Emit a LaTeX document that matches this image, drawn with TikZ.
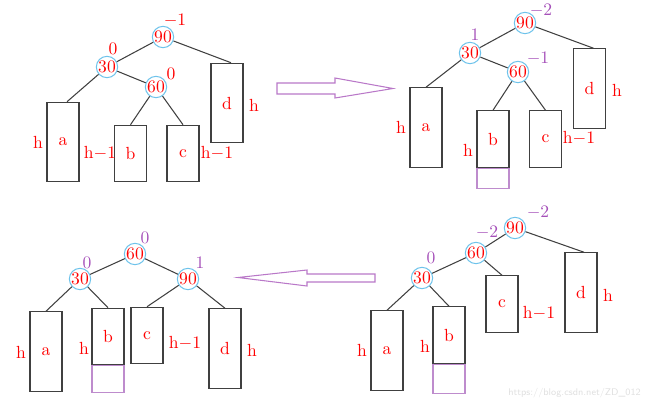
\documentclass[tikz,border=0pt]{standalone}
\usepackage{amsmath}
\usepackage{xcolor}
\usepackage{tikz}
\usetikzlibrary{calc}
\usetikzlibrary{shapes,arrows,positioning}
\definecolor{keyblue}{RGB}{110,195,235}
\definecolor{bfpurple}{RGB}{165,80,185}
\definecolor{extpurple}{RGB}{190,140,205}
\definecolor{arrpurple}{RGB}{185,120,200}
\begin{document}
\begin{tikzpicture}[x=0.02cm,y=-0.02cm,
	key/.style={circle,draw=keyblue,line width=0.6pt,inner sep=0pt,minimum size=0.4cm,text=red},
	sub/.style={rectangle,draw=black!75,line width=0.6pt,inner sep=0pt,minimum width=0.64cm,text=red},
	tall/.style={sub,minimum height=1.59cm},
	short/.style={sub,minimum height=1.13cm},
	ext/.style={rectangle,draw=extpurple,line width=0.6pt,inner sep=0pt,minimum width=0.64cm,anchor=north},
	lab/.style={text=red,inner sep=0pt},
	bf/.style={text=bfpurple,inner sep=0pt},
	edge/.style={draw=black!75,line width=0.6pt},
	bigarrow/.style={draw=arrpurple,line width=0.6pt}]
	\useasboundingbox (0,0) rectangle (650,406);
	% top left
	\node[key] (p1n90) at (163,37) {90};
	\node[key] (p1n30) at (107,67) {30};
	\node[key] (p1n60) at (156,87) {60};
	\node[lab] (p1f90) at (175,21) {$-1$};
	\node[lab] (p1f30) at (113,49) {0};
	\node[lab] (p1f60) at (171,74) {0};
	\node[tall] (p1a) at (63,142) {a};
	\node[short] (p1b) at (130.5,153.5) {b};
	\node[short] (p1c) at (183,153.5) {c};
	\node[tall] (p1d) at (227,103) {d};
	\node[lab] (p1ha) at (38,142) {h};
	\node[lab] (p1hb) at (100,153) {h$-$1};
	\node[lab] (p1hc) at (217,153) {h$-$1};
	\node[lab] (p1hd) at (254,105) {h};
	\draw[edge] (p1n90) -- (p1n30);
	\draw[edge] (p1n90) -- ($(p1d.north)+(4,0)$);
	\draw[edge] (p1n30) -- (p1n60);
	\draw[edge] (p1n30) -- ($(p1a.north)+(4,0)$);
	\draw[edge] (p1n60) -- (p1b.north);
	\draw[edge] (p1n60) -- (p1c.north);
	% arrow to the right
	\draw[bigarrow] (277,83) -- (335,83) -- (335,78) -- (393,88.5) -- (335,98) -- (335,94) -- (277,94) -- cycle;
	% top right
	\node[key] (p2n90) at (525,23) {90};
	\node[key] (p2n30) at (470,53) {30};
	\node[key] (p2n60) at (518,72) {60};
	\node[bf] (p2f90) at (541,11) {$-2$};
	\node[bf] (p2f30) at (475,35) {1};
	\node[bf] (p2f60) at (538,59) {$-1$};
	\node[tall] (p2a) at (426,127.5) {a};
	\node[short] (p2b) at (493,139) {b};
	\node[ext,minimum height=0.4cm] (p2bx) at (p2b.south) {};
	\node[short] (p2c) at (545.5,139) {c};
	\node[tall] (p2d) at (589.5,88.5) {d};
	\node[lab] (p2ha) at (401,127) {h};
	\node[lab] (p2hb) at (468,150) {h};
	\node[lab] (p2hc) at (579,138) {h$-$1};
	\node[lab] (p2hd) at (617,90) {h};
	\draw[edge] (p2n90) -- (p2n30);
	\draw[edge] (p2n90) -- ($(p2d.north)+(4,0)$);
	\draw[edge] (p2n30) -- (p2n60);
	\draw[edge] (p2n30) -- (p2a.north);
	\draw[edge] (p2n60) -- (p2b.north);
	\draw[edge] (p2n60) -- (p2c.north);
	% bottom left
	\node[key] (p3n60) at (135,254) {60};
	\node[key] (p3n30) at (80,279) {30};
	\node[key] (p3n90) at (188,279) {90};
	\node[bf] (p3f60) at (145,238) {0};
	\node[bf] (p3f30) at (87,263) {0};
	\node[bf] (p3f90) at (200,263) {1};
	\node[tall] (p3a) at (46,351.5) {a};
	\node[short] (p3b) at (108,336.5) {b};
	\node[ext,minimum height=0.54cm] (p3bx) at (p3b.south) {};
	\node[short] (p3c) at (147,335.5) {c};
	\node[tall] (p3d) at (225,348.5) {d};
	\node[lab] (p3ha) at (21,352) {h};
	\node[lab] (p3hb) at (84,348) {h};
	\node[lab] (p3hc) at (185,343) {h$-$1};
	\node[lab] (p3hd) at (252,350) {h};
	\draw[edge] (p3n60) -- (p3n30);
	\draw[edge] (p3n60) -- (p3n90);
	\draw[edge] (p3n30) -- (p3a.north);
	\draw[edge] (p3n30) -- (p3b.north);
	\draw[edge] (p3n90) -- (p3c.north);
	\draw[edge] (p3n90) -- (p3d.north);
	% arrow to the left
	\draw[bigarrow] (375,274) -- (307,274) -- (307,270) -- (238,277.5) -- (307,286) -- (307,282) -- (375,282) -- cycle;
	% bottom right
	\node[key] (p4n90) at (515,228) {90};
	\node[key] (p4n60) at (476,253) {60};
	\node[key] (p4n30) at (422,278) {30};
	\node[bf] (p4f90) at (538,213) {$-2$};
	\node[bf] (p4f60) at (487,233) {$-2$};
	\node[bf] (p4f30) at (431,258) {0};
	\node[tall] (p4a) at (387,350.5) {a};
	\node[short] (p4b) at (449,335) {b};
	\node[ext,minimum height=0.58cm] (p4bx) at (p4b.south) {};
	\node[short] (p4c) at (502,304) {c};
	\node[tall] (p4d) at (581,292.5) {d};
	\node[lab] (p4ha) at (362,350) {h};
	\node[lab] (p4hb) at (425,346) {h};
	\node[lab] (p4hc) at (539,313) {h$-$1};
	\node[lab] (p4hd) at (608,295) {h};
	\draw[edge] (p4n90) -- (p4n60);
	\draw[edge] (p4n90) -- ($(p4d.north)+(3,0)$);
	\draw[edge] (p4n60) -- (p4n30);
	\draw[edge] (p4n60) -- (p4c.north);
	\draw[edge] (p4n30) -- (p4a.north);
	\draw[edge] (p4n30) -- (p4b.north);
	\node[text=black!12,font=\sffamily\fontsize{5.5}{6}\selectfont,inner sep=0pt,anchor=west] (mark) at (508,393) {https://blog.csdn.net/ZD\_012};
\end{tikzpicture}
\end{document}
